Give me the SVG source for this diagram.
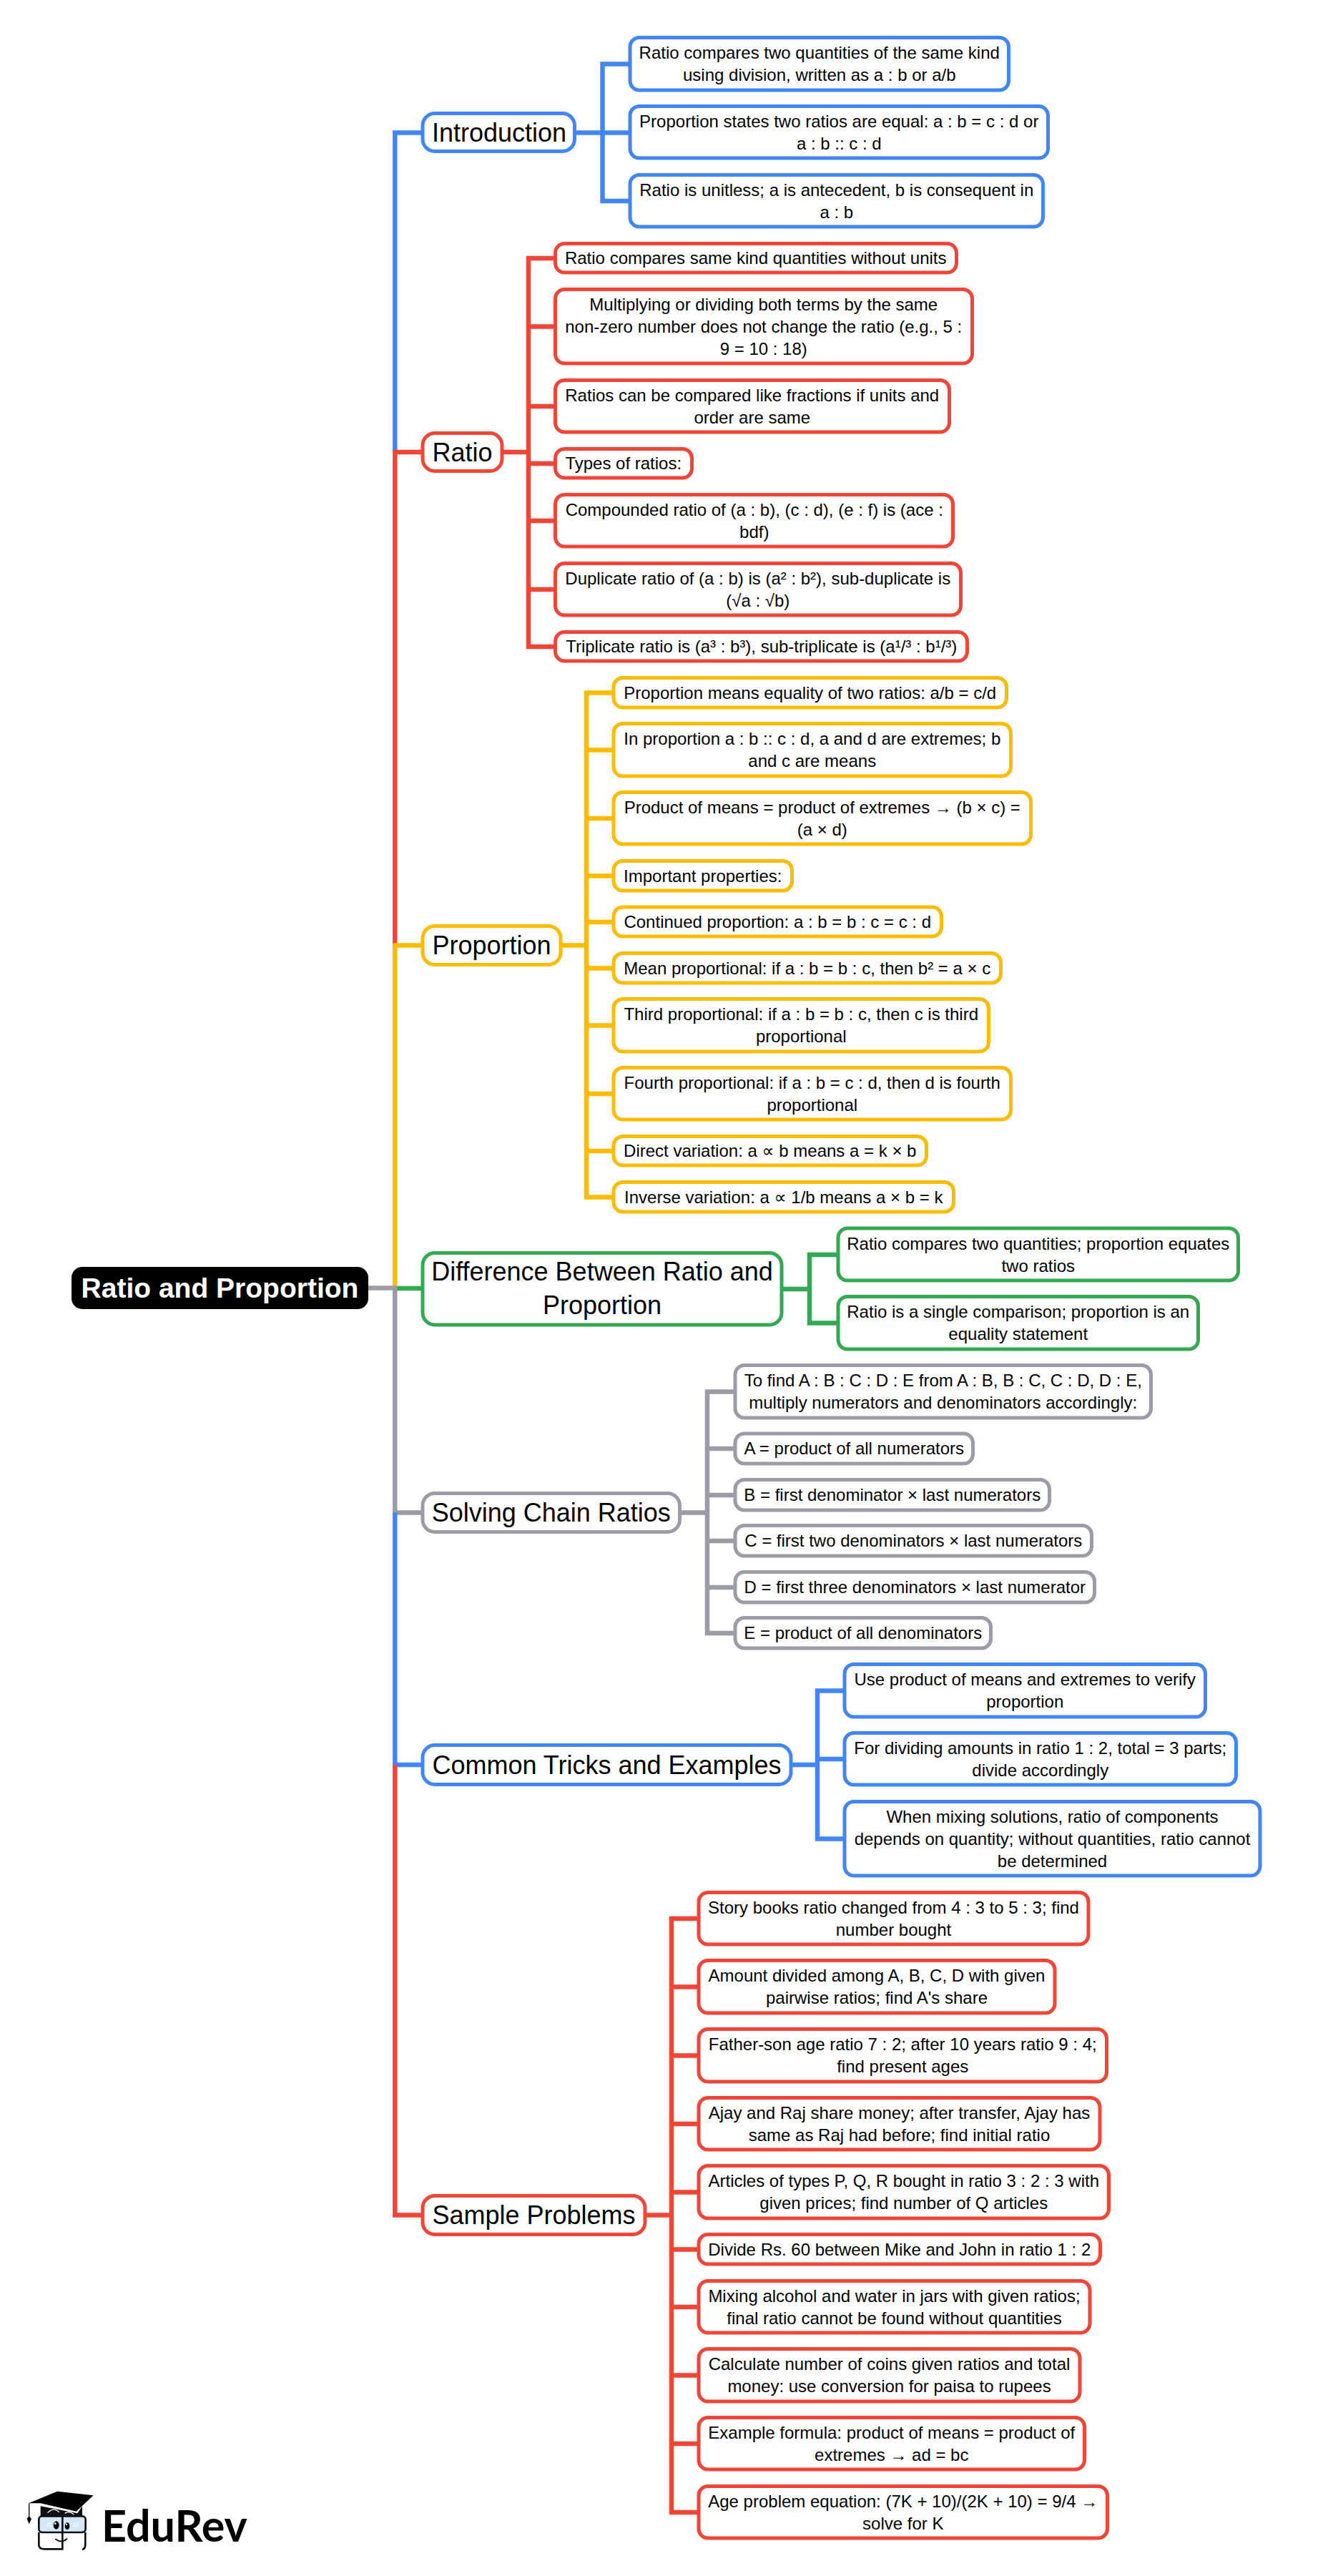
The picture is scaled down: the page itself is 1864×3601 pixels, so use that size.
<svg xmlns="http://www.w3.org/2000/svg" width="1864" height="3601" viewBox="0 0 1864 3601">
<style>
text{font-family:"Liberation Sans","DejaVu Sans",sans-serif;fill:#000;text-anchor:middle}
.c{font-size:24px}.b{font-size:36px}
.r{font-size:39px;font-weight:700;fill:#fff}
rect{fill:#fff;stroke-width:5}
.c0 rect,.nb rect{stroke:#4285f4;rx:13px}
.cr rect{stroke:#ef4638;rx:13px}
.cy rect{stroke:#ffbb00;rx:13px}
.cg rect{stroke:#34a853;rx:13px}
.ca rect{stroke:#9a9da8;rx:13px}
.bb rect{rx:17px}
#connectors path{fill:none;stroke-width:6.5;stroke-linejoin:miter;stroke-linecap:butt}
.lb{stroke:#4285f4}.lr{stroke:#ef4638}.ly{stroke:#ffbb00}.lg{stroke:#34a853}.la{stroke:#9a9da8}
</style>
<rect width="1864" height="3601" style="fill:#fff;stroke:none"/>
<g id="connectors">
<path class="lb" d="M552.3 632V185.5H590"/>
<path class="lr" d="M552.3 1321V632H590"/>
<path class="ly" d="M552.3 1800V1321.5H590"/>
<path class="lg" d="M552 1801H590"/>
<path class="la" d="M513 1800.5H552.3V2114.5H590"/>
<path class="lb" d="M552.3 2114.5V2467H590"/>
<path class="lr" d="M552.3 2467V3096.5H590"/>
<path class="lb" d="M805 185.5H880M880 89.5H842.5V281H880"/>
<path class="lr" d="M702 632H739M775 361H739V904H775M739 456.5H775M739 568H775M739 648H775M739 728H775M739 824H775"/>
<path class="ly" d="M783 1321.5H820M857 968.5H820V1673.5H857M820 1048.5H857M820 1144H857M820 1224.5H857M820 1289H857M820 1353.5H857M820 1433.5H857M820 1529H857M820 1609H857"/>
<path class="lg" d="M1092 1802H1132M1171 1754H1132V1849.5H1171"/>
<path class="la" d="M950 2114.5H989M1027 1945.5H989V2283H1027M989 2025H1027M989 2090H1027M989 2154H1027M989 2219H1027"/>
<path class="lb" d="M1105 2467H1143M1180 2363.5H1143V2570.5H1180M1143 2459H1180"/>
<path class="lr" d="M901 3096.5H939M976 2682H939V3512H976M939 2777.5H976M939 2873.5H976M939 2969H976M939 3064.5H976M939 3144.5H976M939 3225H976M939 3320.5H976M939 3416H976"/>
</g>
<g id="root"><rect x="100" y="1771" width="415" height="59" rx="15" style="fill:#000;stroke:none"/><text class="r" x="307.5" y="1814">Ratio and Proportion</text></g>

<g id="introduction" class="nb bb"><rect x="591" y="158.5" width="212.5" height="53"/><text class="b" x="698" y="197.5">Introduction</text></g>
<g id="ratio" class="cr bb"><rect x="591" y="605.5" width="111" height="53"/><text class="b" x="646.5" y="644.5">Ratio</text></g>
<g id="proportion" class="cy bb"><rect x="591" y="1294.5" width="193" height="54"/><text class="b" x="687.5" y="1334">Proportion</text></g>
<g id="difference" class="cg bb"><rect x="591" y="1751.5" width="502" height="100.5"/><text class="b" x="842" y="1790">Difference Between Ratio and<tspan x="842" y="1837">Proportion</tspan></text></g>
<g id="solving" class="ca bb"><rect x="591" y="2087.5" width="359.5" height="54"/><text class="b" x="770.75" y="2127">Solving Chain Ratios</text></g>
<g id="tricks" class="nb bb"><rect x="591" y="2439.5" width="515" height="55"/><text class="b" x="848.5" y="2479.5">Common Tricks and Examples</text></g>
<g id="sample" class="cr bb"><rect x="591" y="3069.5" width="311" height="54"/><text class="b" x="746.5" y="3109">Sample Problems</text></g>

<g id="intro-1" class="c0"><rect x="881" y="52.5" width="529.5" height="73.5"/><text class="c" x="1145.75" y="82">Ratio compares two quantities of the same kind<tspan x="1145.75" y="113">using division, written as a : b or a/b</tspan></text></g>
<g id="intro-2" class="c0"><rect x="881" y="148.5" width="584.5" height="72.5"/><text class="c" x="1173.25" y="177.5">Proportion states two ratios are equal: a : b = c : d or<tspan x="1173.25" y="208.5">a : b :: c : d</tspan></text></g>
<g id="intro-3" class="c0"><rect x="881" y="244.5" width="577.5" height="72.5"/><text class="c" x="1169.75" y="273.5">Ratio is unitless; a is antecedent, b is consequent in<tspan x="1169.75" y="304.5">a : b</tspan></text></g>

<g id="ratio-1" class="cr"><rect x="776.5" y="340.5" width="561" height="40.5"/><text class="c" x="1056.75" y="369">Ratio compares same kind quantities without units</text></g>
<g id="ratio-2" class="cr"><rect x="776.5" y="404.5" width="583" height="103.5"/><text class="c" x="1067.75" y="433.5">Multiplying or dividing both terms by the same<tspan x="1067.75" y="464.5">non-zero number does not change the ratio (e.g., 5 :</tspan><tspan x="1067.75" y="495.5">9 = 10 : 18)</tspan></text></g>
<g id="ratio-3" class="cr"><rect x="776.5" y="531.5" width="551" height="72.5"/><text class="c" x="1051.75" y="560.5">Ratios can be compared like fractions if units and<tspan x="1051.75" y="591.5">order are same</tspan></text></g>
<g id="ratio-4" class="cr"><rect x="776.5" y="627.5" width="191" height="40.5"/><text class="c" x="871.75" y="656">Types of ratios:</text></g>
<g id="ratio-5" class="cr"><rect x="776.5" y="691.5" width="556" height="72.5"/><text class="c" x="1054.75" y="720.5">Compounded ratio of (a : b), (c : d), (e : f) is (ace :<tspan x="1054.75" y="751.5">bdf)</tspan></text></g>
<g id="ratio-6" class="cr"><rect x="776.5" y="787.5" width="567" height="72.5"/><text class="c" x="1059.75" y="816.5">Duplicate ratio of (a : b) is (a² : b²), sub-duplicate is<tspan x="1059.75" y="847.5">(√a : √b)</tspan></text></g>
<g id="ratio-7" class="cr"><rect x="776.5" y="883.5" width="576" height="40.5"/><text class="c" x="1064.75" y="912">Triplicate ratio is (a³ : b³), sub-triplicate is (a¹/³ : b¹/³)</text></g>

<g id="prop-1" class="cy"><rect x="858" y="947.5" width="549.5" height="41.5"/><text class="c" x="1132.75" y="976.5">Proportion means equality of two ratios: a/b = c/d</text></g>
<g id="prop-2" class="cy"><rect x="858" y="1011.5" width="555.5" height="73.5"/><text class="c" x="1135.75" y="1041">In proportion a : b :: c : d, a and d are extremes; b<tspan x="1135.75" y="1072">and c are means</tspan></text></g>
<g id="prop-3" class="cy"><rect x="858" y="1107.5" width="583.5" height="72.5"/><text class="c" x="1149.75" y="1136.5">Product of means = product of extremes → (b × c) =<tspan x="1149.75" y="1167.5">(a × d)</tspan></text></g>
<g id="prop-4" class="cy"><rect x="858" y="1203.5" width="249.5" height="41.5"/><text class="c" x="982.75" y="1232.5">Important properties:</text></g>
<g id="prop-5" class="cy"><rect x="858" y="1268" width="458.5" height="41"/><text class="c" x="1087.25" y="1297">Continued proportion: a : b = b : c = c : d</text></g>
<g id="prop-6" class="cy"><rect x="858" y="1332.5" width="541.5" height="41.5"/><text class="c" x="1128.75" y="1361.5">Mean proportional: if a : b = b : c, then b² = a × c</text></g>
<g id="prop-7" class="cy"><rect x="858" y="1396.5" width="524.5" height="73.5"/><text class="c" x="1120.25" y="1426">Third proportional: if a : b = b : c, then c is third<tspan x="1120.25" y="1457">proportional</tspan></text></g>
<g id="prop-8" class="cy"><rect x="858" y="1492.5" width="555.5" height="72.5"/><text class="c" x="1135.75" y="1521.5">Fourth proportional: if a : b = c : d, then d is fourth<tspan x="1135.75" y="1552.5">proportional</tspan></text></g>
<g id="prop-9" class="cy"><rect x="858" y="1588.5" width="437.5" height="40.5"/><text class="c" x="1076.75" y="1617">Direct variation: a ∝ b means a = k × b</text></g>
<g id="prop-10" class="cy"><rect x="858" y="1652.5" width="475.5" height="41.5"/><text class="c" x="1095.75" y="1681.5">Inverse variation: a ∝ 1/b means a × b = k</text></g>

<g id="diff-1" class="cg"><rect x="1172" y="1717" width="559.5" height="73"/><text class="c" x="1451.75" y="1746.5">Ratio compares two quantities; proportion equates<tspan x="1451.75" y="1777.5">two ratios</tspan></text></g>
<g id="diff-2" class="cg"><rect x="1172" y="1812.5" width="503.5" height="73.5"/><text class="c" x="1423.75" y="1842">Ratio is a single comparison; proportion is an<tspan x="1423.75" y="1873">equality statement</tspan></text></g>

<g id="chain-1" class="ca"><rect x="1028" y="1908.5" width="581.5" height="73.5"/><text class="c" x="1318.75" y="1938">To find A : B : C : D : E from A : B, B : C, C : D, D : E,<tspan x="1318.75" y="1969">multiply numerators and denominators accordingly:</tspan></text></g>
<g id="chain-2" class="ca"><rect x="1028" y="2004" width="332.5" height="42"/><text class="c" x="1194.25" y="2033">A = product of all numerators</text></g>
<g id="chain-3" class="ca"><rect x="1028" y="2068.5" width="439.5" height="42.5"/><text class="c" x="1247.75" y="2098">B = first denominator × last numerators</text></g>
<g id="chain-4" class="ca"><rect x="1028" y="2132.5" width="498.5" height="42.5"/><text class="c" x="1277.25" y="2162">C = first two denominators × last numerators</text></g>
<g id="chain-5" class="ca"><rect x="1028" y="2197.5" width="502.5" height="42.5"/><text class="c" x="1279.25" y="2227">D = first three denominators × last numerator</text></g>
<g id="chain-6" class="ca"><rect x="1028" y="2261.5" width="357.5" height="42.5"/><text class="c" x="1206.75" y="2291">E = product of all denominators</text></g>

<g id="tricks-1" class="c0"><rect x="1181" y="2326.5" width="504.5" height="73.5"/><text class="c" x="1433.25" y="2356">Use product of means and extremes to verify<tspan x="1433.25" y="2387">proportion</tspan></text></g>
<g id="tricks-2" class="c0"><rect x="1181" y="2422.5" width="547.5" height="72.5"/><text class="c" x="1454.75" y="2451.5">For dividing amounts in ratio 1 : 2, total = 3 parts;<tspan x="1454.75" y="2482.5">divide accordingly</tspan></text></g>
<g id="tricks-3" class="c0"><rect x="1181" y="2518.5" width="581" height="103.5"/><text class="c" x="1471.5" y="2547.5">When mixing solutions, ratio of components<tspan x="1471.5" y="2578.5">depends on quantity; without quantities, ratio cannot</tspan><tspan x="1471.5" y="2609.5">be determined</tspan></text></g>

<g id="sample-1" class="cr"><rect x="977" y="2645.5" width="545" height="72.5"/><text class="c" x="1249.5" y="2674.5">Story books ratio changed from 4 : 3 to 5 : 3; find<tspan x="1249.5" y="2705.5">number bought</tspan></text></g>
<g id="sample-2" class="cr"><rect x="977" y="2740.5" width="498" height="73.5"/><text class="c" x="1226" y="2770">Amount divided among A, B, C, D with given<tspan x="1226" y="2801">pairwise ratios; find A's share</tspan></text></g>
<g id="sample-3" class="cr"><rect x="977" y="2836.5" width="570.5" height="73.5"/><text class="c" x="1262.25" y="2866">Father-son age ratio 7 : 2; after 10 years ratio 9 : 4;<tspan x="1262.25" y="2897">find present ages</tspan></text></g>
<g id="sample-4" class="cr"><rect x="977" y="2932.5" width="561" height="72.5"/><text class="c" x="1257.5" y="2961.5">Ajay and Raj share money; after transfer, Ajay has<tspan x="1257.5" y="2992.5">same as Raj had before; find initial ratio</tspan></text></g>
<g id="sample-5" class="cr"><rect x="977" y="3027.5" width="573.5" height="73.5"/><text class="c" x="1263.75" y="3057">Articles of types P, Q, R bought in ratio 3 : 2 : 3 with<tspan x="1263.75" y="3088">given prices; find number of Q articles</tspan></text></g>
<g id="sample-6" class="cr"><rect x="977" y="3123.5" width="561.5" height="41.5"/><text class="c" x="1257.75" y="3152.5">Divide Rs. 60 between Mike and John in ratio 1 : 2</text></g>
<g id="sample-7" class="cr"><rect x="977" y="3188.5" width="547" height="72.5"/><text class="c" x="1250.5" y="3217.5">Mixing alcohol and water in jars with given ratios;<tspan x="1250.5" y="3248.5">final ratio cannot be found without quantities</tspan></text></g>
<g id="sample-8" class="cr"><rect x="977" y="3283.5" width="533" height="73.5"/><text class="c" x="1243.5" y="3313">Calculate number of coins given ratios and total<tspan x="1243.5" y="3344">money: use conversion for paisa to rupees</tspan></text></g>
<g id="sample-9" class="cr"><rect x="977" y="3379.5" width="539.5" height="72.5"/><text class="c" x="1246.75" y="3408.5">Example formula: product of means = product of<tspan x="1246.75" y="3439.5">extremes → ad = bc</tspan></text></g>
<g id="sample-10" class="cr"><rect x="977" y="3475.5" width="571.5" height="72.5"/><text class="c" x="1262.75" y="3504.5">Age problem equation: (7K + 10)/(2K + 10) = 9/4 →<tspan x="1262.75" y="3535.5">solve for K</tspan></text></g>

<g id="logo">
<g transform="translate(0 3460) scale(.3333)">
<path d="M170 130L325 160L345 130V185H170Z" style="fill:#111"/>
<path d="M120 118L240 68L392 85L320 152L170 118Z" style="fill:#000"/>
<path d="M122 118V172" style="fill:none;stroke:#000;stroke-width:4"/>
<path d="M122 170L132 184L122 205L113 184Z" style="fill:#000"/>
<path d="M200 158Q225 132 248 155M272 160Q290 148 310 165" style="fill:none;stroke:#fff;stroke-width:4"/>
<rect x="163" y="172" width="196" height="68" rx="14" style="fill:#d3e8f7;stroke:#111;stroke-width:8"/>
<path d="M163 240V292Q163 310 185 310H258M358 240V292Q358 310 345 312" style="fill:none;stroke:#111;stroke-width:8"/>
<path d="M262 165V314" style="fill:none;stroke:#111;stroke-width:8"/>
<ellipse cx="236" cy="210" rx="12" ry="17" style="fill:#000"/>
<ellipse cx="282" cy="214" rx="10" ry="15" style="fill:#000"/>
<circle cx="232" cy="203" r="4" style="fill:#fff"/><circle cx="279" cy="207" r="3.5" style="fill:#fff"/>
<path d="M201 202H214V214H201ZM311 202H324V214H311Z" style="fill:none;stroke:#fff;stroke-width:3"/>
<path d="M232 268Q258 288 282 266" style="fill:none;stroke:#111;stroke-width:6"/>
</g>
<text x="142" y="3553" style="font-family:Lato,'Open Sans',sans-serif;font-weight:700;font-size:61px;text-anchor:start;fill:#000">EduRev</text>
</g>
</svg>
